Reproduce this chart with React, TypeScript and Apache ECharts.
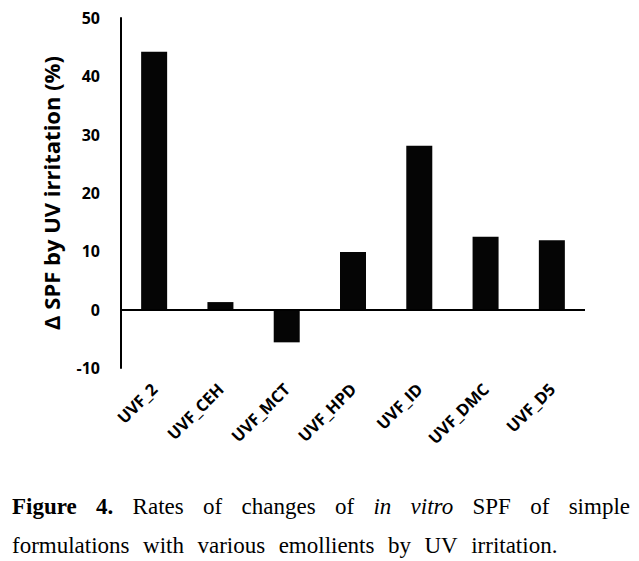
import React, { useEffect, useRef } from "react";
import * as echarts from "echarts";

const categories = ["UVF_2", "UVF_CEH", "UVF_MCT", "UVF_HPD", "UVF_ID", "UVF_DMC", "UVF_D5"];
const values = [44.2, 1.3, -5.6, 9.9, 28.1, 12.5, 11.9];
const yTicks = { min: -10, max: 50, interval: 10 };
const yName = "Δ SPF by UV irritation (%)";
const captionLine1 = [
  { t: "Figure", s: "bold" },
  { t: "4.", s: "bold" },
  { t: "Rates", s: "normal" },
  { t: "of", s: "normal" },
  { t: "changes", s: "normal" },
  { t: "of", s: "normal" },
  { t: "in", s: "italic" },
  { t: "vitro", s: "italic" },
  { t: "SPF", s: "normal" },
  { t: "of", s: "normal" },
  { t: "simple", s: "normal" },
];
const captionLine2 = "formulations with various emollients by UV irritation.".split(" ");

const SERIF = "'Liberation Serif', 'Times New Roman', serif";
const SANS = "'Open Sans', Lato, sans-serif";
const CAP_SIZE = 23;

function fontFor(s: string) {
  if (s === "bold") return `bold ${CAP_SIZE}px ${SERIF}`;
  if (s === "italic") return `italic ${CAP_SIZE}px ${SERIF}`;
  return `${CAP_SIZE}px ${SERIF}`;
}

export default function App() {
  const ref = useRef<HTMLDivElement>(null);
  useEffect(() => {
    document.body.style.margin = "0";
    if (!ref.current) return;
    const chart = echarts.init(ref.current, null, { renderer: "svg" });
    const canvas = document.createElement("canvas");
    const ctx = canvas.getContext("2d")!;
    const measure = (t: string, f: string) => {
      ctx.font = f;
      return ctx.measureText(t).width;
    };
    const left = 12;
    const right = 630;
    const widths1 = captionLine1.map((w) => measure(w.t, fontFor(w.s)));
    const total1 = widths1.reduce((a, b) => a + b, 0);
    const gap1 = (right - left - total1) / (captionLine1.length - 1);
    const graphics: any[] = [];
    let x = left;
    captionLine1.forEach((w, i) => {
      graphics.push({
        type: "text",
        x,
        y: 506,
        style: {
          text: w.t,
          fill: "#000",
          font: fontFor(w.s),
          verticalAlign: "middle",
        },
      });
      x += widths1[i] + gap1;
    });
    x = left;
    const gap2 = 13.5;
    captionLine2.forEach((w) => {
      const f = fontFor("normal");
      graphics.push({
        type: "text",
        x,
        y: 545,
        style: { text: w, fill: "#000", font: f, verticalAlign: "middle" },
      });
      x += measure(w, f) + gap2;
    });

    chart.setOption({
      animation: false,
      grid: { left: 121, right: 54, top: 18, bottom: 193, containLabel: false },
      xAxis: {
        type: "category",
        data: categories,
        axisLine: { show: false, onZero: false },
        axisTick: { show: false },
        axisLabel: {
          rotate: 45,
          margin: 18,
          interval: 0,
          color: "#000",
          fontFamily: SANS,
          fontWeight: "bold",
          fontSize: 16.5,
        },
      },
      yAxis: {
        type: "value",
        min: yTicks.min,
        max: yTicks.max,
        interval: yTicks.interval,
        name: yName,
        nameLocation: "middle",
        nameGap: 59,
        nameTextStyle: { color: "#000", fontFamily: SANS, fontWeight: "bold", fontSize: 22 },
        axisLine: { show: true, lineStyle: { color: "#000", width: 2 } },
        axisTick: { show: false },
        splitLine: { show: false },
        axisLabel: { color: "#000", fontFamily: SANS, fontWeight: "bold", fontSize: 16, margin: 21 },
      },
      series: [
        {
          type: "bar",
          data: values,
          barWidth: 26,
          itemStyle: { color: "#050505" },
          markLine: {
            silent: true,
            symbol: ["none", "none"],
            label: { show: false },
            lineStyle: { color: "#000", width: 2, type: "solid" },
            data: [{ yAxis: 0 }],
          },
        },
      ],
      graphic: graphics,
    });
    return () => chart.dispose();
  }, []);
  return <div ref={ref} style={{ width: 639, height: 561 }} />;
}
